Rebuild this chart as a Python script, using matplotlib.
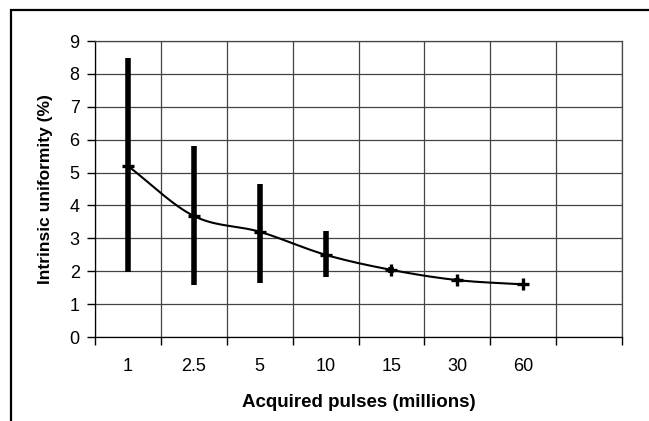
import numpy as np
import matplotlib.pyplot as plt
from matplotlib.patches import Rectangle

plt.rcParams['font.family'] = ['Liberation Sans', 'DejaVu Sans']

categories = ['1', '2.5', '5', '10', '15', '30', '60']
uniformity = [5.2, 3.68, 3.2, 2.5, 2.04, 1.73, 1.6]
err_low = [1.98, 1.58, 1.65, 1.81, 1.94, 1.66, 1.55]
err_high = [8.47, 5.8, 4.66, 3.22, 2.14, 1.8, 1.65]


def smooth(x, y, n=30):
    # catmull-rom curve through the points, like the spreadsheet's smoothed line
    x = np.asarray(x, float)
    y = np.asarray(y, float)
    px = np.concatenate([[2 * x[0] - x[1]], x, [2 * x[-1] - x[-2]]])
    py = np.concatenate([[2 * y[0] - y[1]], y, [2 * y[-1] - y[-2]]])
    xs, ys = [], []
    t = np.linspace(0, 1, n)
    for i in range(1, len(px) - 2):
        for p, out in ((px, xs), (py, ys)):
            p0, p1, p2, p3 = p[i - 1], p[i], p[i + 1], p[i + 2]
            out.extend(0.5 * (2 * p1 + (-p0 + p2) * t
                              + (2 * p0 - 5 * p1 + 4 * p2 - p3) * t ** 2
                              + (-p0 + 3 * p1 - 3 * p2 + p3) * t ** 3))
    return xs, ys


fig = plt.figure(figsize=(6.49, 4.21), dpi=100)
fig.patches.append(Rectangle((11 / 649, -0.1), 1.2, 1 - 10 / 421 + 0.1,
                             transform=fig.transFigure, fill=False,
                             edgecolor='black', linewidth=1.6))
ax = fig.add_axes([95 / 649, 1 - 337 / 421, 527 / 649, 296 / 421])

x = np.arange(len(categories)) + 0.5
mid = np.array(uniformity)
ax.vlines(x, err_low, err_high, color='black', linewidth=4, zorder=3)
sx, sy = smooth(x, mid)
ax.plot(sx, sy, color='black', linewidth=1.5, zorder=4)
ax.plot(x, mid, linestyle='none', marker='+', markersize=8,
        markeredgewidth=2.4, color='black', zorder=5)

ax.set_xlim(0, 8)
ax.set_ylim(0, 9)
ax.set_yticks(range(10))
ax.set_xticks(range(9))
ax.set_xticklabels([])
ax.set_xticks(x, minor=True)
ax.set_xticklabels(categories, minor=True)
ax.tick_params(axis='x', which='minor', length=0, pad=15, labelsize=13)
ax.tick_params(axis='x', which='major', length=6, width=1, direction='out')
ax.tick_params(axis='y', length=6, width=1, pad=5, labelsize=13)
ax.grid(True, which='major', color='#444444', linewidth=0.9)
for s in ax.spines.values():
    s.set_color('#444444')
    s.set_linewidth(0.9)
ax.spines['left'].set_color('black')
ax.spines['bottom'].set_color('black')

ax.set_ylabel('Intrinsic uniformity (%)', fontsize=12.5, fontweight='bold', labelpad=12)
ax.set_xlabel('Acquired pulses (millions)', fontsize=13.5, fontweight='bold', labelpad=14)

fig.savefig('out.png', dpi=100)
